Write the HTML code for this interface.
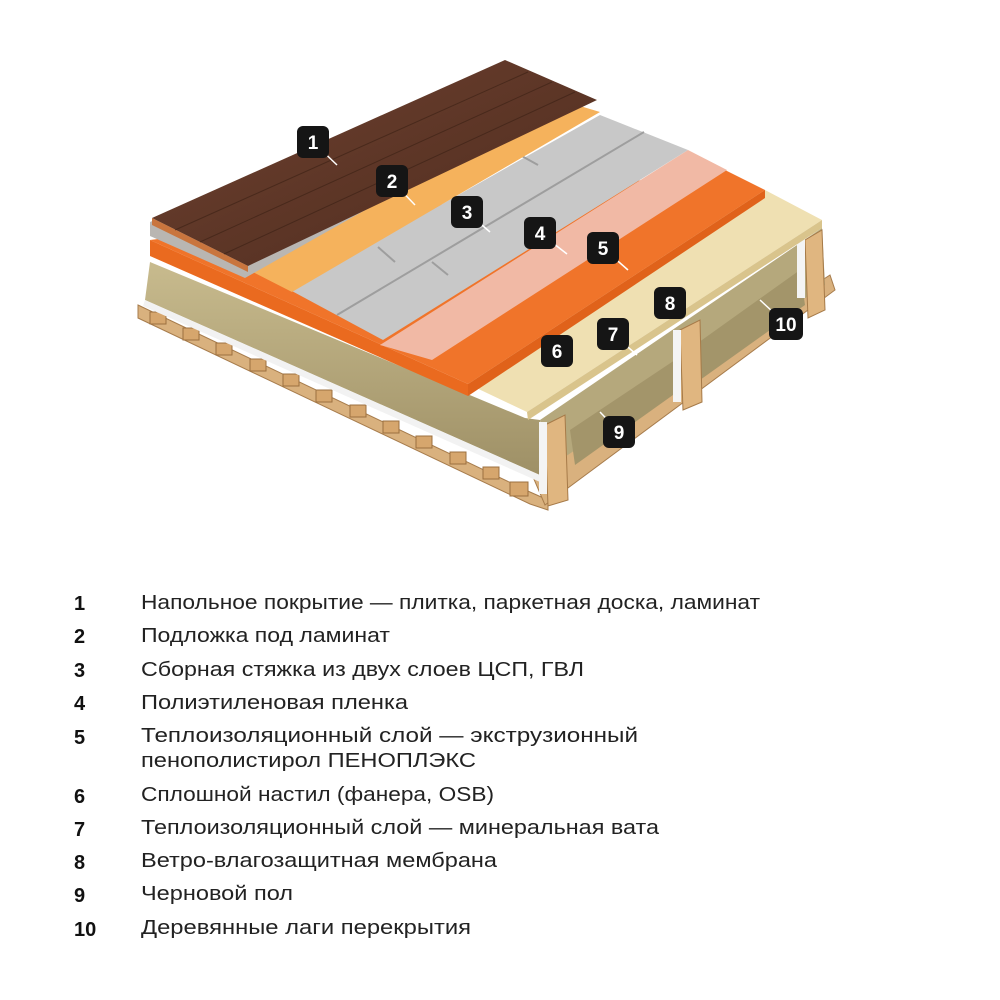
<!DOCTYPE html>
<html><head><meta charset="utf-8"><style>
html,body{margin:0;padding:0;background:#fff;width:1000px;height:1000px;overflow:hidden}
svg{display:block}
.n{font-family:"Liberation Sans",sans-serif;font-weight:bold;font-size:20px;fill:#111}
.t{font-family:"Liberation Sans",sans-serif;font-size:20px;fill:#222}
.b{font-family:"Liberation Sans",sans-serif;font-weight:bold;font-size:19px;fill:#fff;text-anchor:middle}
</style></head><body>
<svg width="1000" height="1000" viewBox="0 0 1000 1000" xmlns="http://www.w3.org/2000/svg">
<defs>
<linearGradient id="wood" x1="0" y1="0" x2="1" y2="1"><stop offset="0" stop-color="#6e4130"/><stop offset="1" stop-color="#4e2c1e"/></linearGradient>
<linearGradient id="wool" x1="0" y1="0" x2="0" y2="1"><stop offset="0" stop-color="#c8bb8e"/><stop offset="1" stop-color="#9e9066"/></linearGradient>
</defs>
<g fill="#d9b17e" stroke="#a77c4c" stroke-width="1">
<polygon points="138,305 530,492 548,500 548,510 530,504 138,318"/>
<polygon points="530,470 830,275 835,290 545,505"/>
</g>
<g fill="#d6a66d" stroke="#9c7040" stroke-width="1">
<rect x="150" y="312" width="16" height="12"/><rect x="183" y="328" width="16" height="12"/>
<rect x="216" y="343" width="16" height="12"/><rect x="250" y="359" width="16" height="12"/>
<rect x="283" y="374" width="16" height="12"/><rect x="316" y="390" width="16" height="12"/>
<rect x="350" y="405" width="16" height="12"/><rect x="383" y="421" width="16" height="12"/>
<rect x="416" y="436" width="16" height="12"/><rect x="450" y="452" width="16" height="12"/>
<rect x="483" y="467" width="16" height="12"/><rect x="510" y="482" width="18" height="14"/>
</g>
<polygon points="150,262 525,418 540,420 540,475 145,300" fill="url(#wool)"/>
<polygon points="145,300 540,475 540,482 143,306" fill="#f2f2f2"/>
<polygon points="540,420 822,228 825,285 545,470" fill="#b5a87c"/>
<polygon points="570,430 675,360 680,390 575,465" fill="#a3956a"/>
<polygon points="695,345 800,270 805,305 700,380" fill="#a3956a"/>
<g fill="#e0b680" stroke="#a67a48">
<polygon points="545,425 565,415 568,500 548,506"/>
<polygon points="680,330 700,320 702,402 683,410"/>
<polygon points="805,240 822,230 825,310 808,318"/>
</g>
<g fill="#f4f4f4"><rect x="539" y="422" width="8" height="72"/><rect x="673" y="330" width="8" height="72"/><rect x="797" y="238" width="8" height="60"/></g>
<polygon points="468,384 765,190 822,220 527,412" fill="#efe0b2"/>
<polygon points="527,412 822,220 822,228 528,420" fill="#d9c48c"/>
<polygon points="150,240 725,170 765,190 468,384" fill="#f0742a"/>
<polygon points="150,240 468,384 468,396 150,256" fill="#ea6a1f"/>
<polygon points="468,384 765,190 765,198 468,396" fill="#e0621a"/>
<polygon points="380,345 688,150 727,170 432,360" fill="#f1b9a5"/>
<polygon points="290,290 600,115 688,150 383,340" fill="#c8c8c8"/>
<line x1="337" y1="315" x2="644" y2="132" stroke="#9e9e9e" stroke-width="2"/>
<line x1="378" y1="247" x2="395" y2="262" stroke="#9e9e9e" stroke-width="2"/>
<line x1="520" y1="155" x2="538" y2="165" stroke="#9e9e9e" stroke-width="2"/>
<line x1="432" y1="262" x2="448" y2="275" stroke="#9e9e9e" stroke-width="2"/>
<polygon points="245,268 560,100 600,112 292,292" fill="#f5b25c"/>
<polygon points="150,222 505,66 560,100 245,278 150,236" fill="#b9b6b2"/>
<polygon points="152,218 505,60 597,100 248,266" fill="url(#wood)"/>
<polygon points="152,218 248,266 248,272 152,225" fill="#c9753e"/>
<g stroke="#3a2014" stroke-width="1" opacity="0.6">
<line x1="175" y1="230" x2="528" y2="72"/><line x1="200" y1="242" x2="552" y2="82"/><line x1="224" y1="254" x2="575" y2="92"/>
</g>
<g stroke="#fff" stroke-width="1.5">
<line x1="313" y1="142" x2="337" y2="165"/><line x1="392" y1="181" x2="415" y2="205"/>
<line x1="467" y1="212" x2="490" y2="232"/><line x1="540" y1="233" x2="567" y2="254"/>
<line x1="603" y1="248" x2="628" y2="270"/><line x1="613" y1="334" x2="637" y2="355"/>
<line x1="619" y1="432" x2="600" y2="412"/><line x1="786" y1="324" x2="760" y2="300"/>
</g>
<g fill="#151515">
<rect x="297" y="126" width="32" height="32" rx="6"/><rect x="376" y="165" width="32" height="32" rx="6"/>
<rect x="451" y="196" width="32" height="32" rx="6"/><rect x="524" y="217" width="32" height="32" rx="6"/>
<rect x="587" y="232" width="32" height="32" rx="6"/><rect x="541" y="335" width="32" height="32" rx="6"/>
<rect x="597" y="318" width="32" height="32" rx="6"/><rect x="654" y="287" width="32" height="32" rx="6"/>
<rect x="603" y="416" width="32" height="32" rx="6"/><rect x="769" y="308" width="34" height="32" rx="6"/>
</g>
<text class="b" x="313" y="149">1</text><text class="b" x="392" y="188">2</text>
<text class="b" x="467" y="219">3</text><text class="b" x="540" y="240">4</text>
<text class="b" x="603" y="255">5</text><text class="b" x="557" y="358">6</text>
<text class="b" x="613" y="341">7</text><text class="b" x="670" y="310">8</text>
<text class="b" x="619" y="439">9</text><text class="b" x="786" y="331">10</text>
<text class="n" x="74" y="610">1</text><text class="t" x="141" y="609" textLength="619" lengthAdjust="spacingAndGlyphs">Напольное покрытие — плитка, паркетная доска, ламинат</text>
<text class="n" x="74" y="643">2</text><text class="t" x="141" y="642" textLength="249" lengthAdjust="spacingAndGlyphs">Подложка под ламинат</text>
<text class="n" x="74" y="677">3</text><text class="t" x="141" y="676" textLength="443" lengthAdjust="spacingAndGlyphs">Сборная стяжка из двух слоев ЦСП, ГВЛ</text>
<text class="n" x="74" y="710">4</text><text class="t" x="141" y="709" textLength="267" lengthAdjust="spacingAndGlyphs">Полиэтиленовая пленка</text>
<text class="n" x="74" y="744">5</text><text class="t" x="141" y="742" textLength="497" lengthAdjust="spacingAndGlyphs">Теплоизоляционный слой — экструзионный</text>
<text class="t" x="141" y="767" textLength="335" lengthAdjust="spacingAndGlyphs">пенополистирол ПЕНОПЛЭКС</text>
<text class="n" x="74" y="803">6</text><text class="t" x="141" y="801" textLength="353" lengthAdjust="spacingAndGlyphs">Сплошной настил (фанера, OSB)</text>
<text class="n" x="74" y="836">7</text><text class="t" x="141" y="834" textLength="518" lengthAdjust="spacingAndGlyphs">Теплоизоляционный слой — минеральная вата</text>
<text class="n" x="74" y="869">8</text><text class="t" x="141" y="867" textLength="356" lengthAdjust="spacingAndGlyphs">Ветро-влагозащитная мембрана</text>
<text class="n" x="74" y="902">9</text><text class="t" x="141" y="900" textLength="152" lengthAdjust="spacingAndGlyphs">Черновой пол</text>
<text class="n" x="74" y="936">10</text><text class="t" x="141" y="934" textLength="330" lengthAdjust="spacingAndGlyphs">Деревянные лаги перекрытия</text>
</svg>
</body></html>
